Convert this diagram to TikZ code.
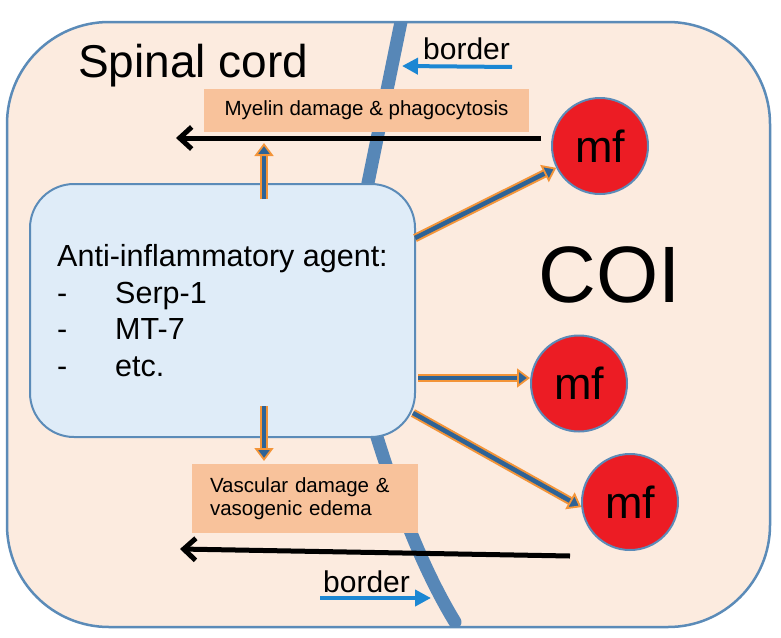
\documentclass[tikz,border=0pt]{standalone}
\usepackage{fontspec}
\setmainfont{Liberation Sans}
\usetikzlibrary{arrows.meta,calc}
\definecolor{outerfill}{HTML}{FCEBDF}
\definecolor{edgeblue}{HTML}{5B8BB8}
\definecolor{borderline}{HTML}{5787B7}
\definecolor{agentfill}{HTML}{DFECF8}
\definecolor{peachbox}{HTML}{F8C29B}
\definecolor{mfred}{HTML}{EC1C24}
\definecolor{arrorange}{HTML}{F39438}
\definecolor{arrblue}{HTML}{2E6396}
\definecolor{tagblue}{HTML}{1C87D3}
\tikzset{
  agentbox/.style={draw=edgeblue, line width=2pt, fill=agentfill, rounded corners=44pt,
    minimum width=385pt, minimum height=253pt, inner sep=0pt,
    align=left, font=\fontsize{30.5}{36.6}\selectfont},
  effectbox/.style={fill=peachbox, draw=none, inner sep=0pt, font=\fontsize{20.5}{23}\selectfont},
  mfnode/.style={circle, draw=edgeblue, line width=2pt, fill=mfred, minimum size=96pt, inner sep=0pt,
    font=\fontsize{45}{50}\selectfont},
  duo/.style={draw=arrorange, line width=2pt, double=arrblue, double distance=4.5pt,
    -{Triangle[open, fill=arrblue, length=13pt, width=19pt, line width=1.8pt]}},
  bigback/.style={line width=5pt, -{Straight Barb[length=12pt, width=22pt]}},
  tagarrow/.style={tagblue, line width=4pt, -{Triangle[length=16pt, width=16pt]}},
  lbl/.style={anchor=base west, inner sep=0pt}
}
\begin{document}
\begin{tikzpicture}[x=1pt,y=-1pt]
\useasboundingbox (0,0) rectangle (781,637);
% outer region
\draw[draw=edgeblue, line width=2.5pt, fill=outerfill, rounded corners=102pt] (7,22) rectangle (770,627);
% the border line
\begin{scope}
\clip[rounded corners=102pt] (7,22) rectangle (770,627);
\draw[borderline, line width=13pt, line cap=round] (403,12) -- (368,183) .. controls (360,250) and (362,390) .. (377,437) .. controls (396,498) and (422,568) .. (455,622);
\end{scope}
% effect boxes
\node[effectbox, minimum width=325pt, minimum height=43pt] (myelin) at (366.5,110) {Myelin damage \& phagocytosis};
\node[effectbox, minimum width=226pt, minimum height=69pt, text width=190pt, align=left] (vasc) at (305,498.5) {Vascular damage \&\\vasogenic edema};
% black arrows
\coordinate (bk1s) at (541,138);
\coordinate (bk1e) at (176,138);
\coordinate (bk2s) at (570,556);
\coordinate (bk2e) at (180,549);
\draw[bigback] (bk1s) -- (bk1e);
% agent box
\node[agentbox] (agent) at (222.5,310.5) {Anti-inflammatory agent:\\\makebox[58pt][l]{-}Serp-1\\\makebox[58pt][l]{-}MT-7\\\makebox[58pt][l]{-}etc.};
\draw[bigback] (bk2s) -- (bk2e);
% mf cells
\node[mfnode] (mf1) at (600,146) {mf};
\node[mfnode] (mf2) at (579,383.5) {mf};
\node[mfnode] (mf3) at (630,502) {mf};
% arrows from agent box
\coordinate (upS) at (264,199);
\coordinate (upE) at (264,143);
\coordinate (dnS) at (264,406);
\coordinate (dnE) at (264,461);
\coordinate (a1) at (415,238);
\coordinate (a2) at (418,378);
\coordinate (a3) at (413,413);
\draw[duo] (upS) -- (upE);
\draw[duo] (dnS) -- (dnE);
\draw[duo] (a1) -- (mf1);
\draw[duo] (a2) -- (mf2.west |- a2);
\draw[duo] (a3) -- (mf3.186);
% labels
\node[lbl, font=\fontsize{46}{50}\selectfont] (title) at (78,77) {Spinal cord};
\node[font=\fontsize{80}{84}\selectfont, inner sep=0pt] (coi) at (610,275) {COI};
\node[lbl, font=\fontsize{30}{34}\selectfont] (btop) at (423,59) {border};
\node[lbl, font=\fontsize{30}{34}\selectfont] (bbot) at (323,592) {border};
\coordinate (t1s) at (512,67);
\coordinate (t1e) at (402,66);
\coordinate (t2s) at (320,598);
\coordinate (t2e) at (431,598);
\draw[tagarrow] (t1s) -- (t1e);
\draw[tagarrow] (t2s) -- (t2e);
\end{tikzpicture}
\end{document}
